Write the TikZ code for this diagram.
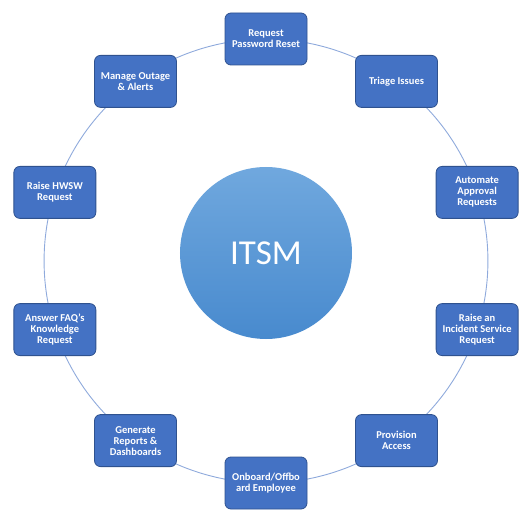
\documentclass[tikz,border=0pt]{standalone}
\usepackage{fontspec}
\setmainfont{Carlito}
\usepackage{xcolor}
\usetikzlibrary{backgrounds}
\definecolor{tFill}{RGB}{68,114,196}
\definecolor{tLine}{RGB}{47,82,143}
\definecolor{hTop}{RGB}{112,168,222}
\definecolor{hBot}{RGB}{72,138,206}
\definecolor{rLine}{RGB}{143,170,220}
\tikzset{
  task/.style={rectangle, rounded corners=6pt, draw=tLine, line width=0.8pt,
               fill=tFill, text=white, minimum width=82pt, minimum height=52pt,
               align=center, inner sep=2pt,
               font=\fontsize{10.5}{11}\selectfont\bfseries},
  hub/.style={circle, minimum size=172pt, inner sep=0pt, top color=hTop,
              bottom color=hBot, text=white, font=\fontsize{35}{40}\selectfont},
  ring/.style={draw=rLine, line width=0.9pt},
}

\begin{document}
\begin{tikzpicture}[x=1pt,y=1pt]
  \useasboundingbox (-266,-271) rectangle (266,261);
  \node[hub] (itsm) at (0,8) {ITSM};
  \node[task] (reset)    at (90:222)   {Request\\Password Reset};
  \node[task] (triage)   at (54:222)   {Triage Issues};
  \node[task] (approve)  at (18:222)   {Automate\\Approval\\Requests};
  \node[task] (incident) at (-18:222)  {Raise an\\Incident Service\\Request};
  \node[task] (access)   at (-54:222)  {Provision\\Access};
  \node[task] (onboard)  at (-90:222)  {Onboard/Offbo\\ard Employee};
  \node[task] (reports)  at (-126:222) {Generate\\Reports \&\\Dashboards};
  \node[task] (faq)      at (-162:222) {Answer FAQ’s\\Knowledge\\Request};
  \node[task] (hwsw)     at (162:222)  {Raise HWSW\\Request};
  \node[task] (outage)   at (126:222)  {Manage Outage\\\& Alerts};
  % ring behind the boxes
  \begin{scope}[on background layer]
    \draw[ring] (reset.center)    to[bend left=18, looseness=0.87] (triage.center);
    \draw[ring] (triage.center)   to[bend left=18, looseness=0.87] (approve.center);
    \draw[ring] (approve.center)  to[bend left=18, looseness=0.87] (incident.center);
    \draw[ring] (incident.center) to[bend left=18, looseness=0.87] (access.center);
    \draw[ring] (access.center)   to[bend left=18, looseness=0.87] (onboard.center);
    \draw[ring] (onboard.center)  to[bend left=18, looseness=0.87] (reports.center);
    \draw[ring] (reports.center)  to[bend left=18, looseness=0.87] (faq.center);
    \draw[ring] (faq.center)      to[bend left=18, looseness=0.87] (hwsw.center);
    \draw[ring] (hwsw.center)     to[bend left=18, looseness=0.87] (outage.center);
    \draw[ring] (outage.center)   to[bend left=18, looseness=0.87] (reset.center);
  \end{scope}
\end{tikzpicture}
\end{document}
